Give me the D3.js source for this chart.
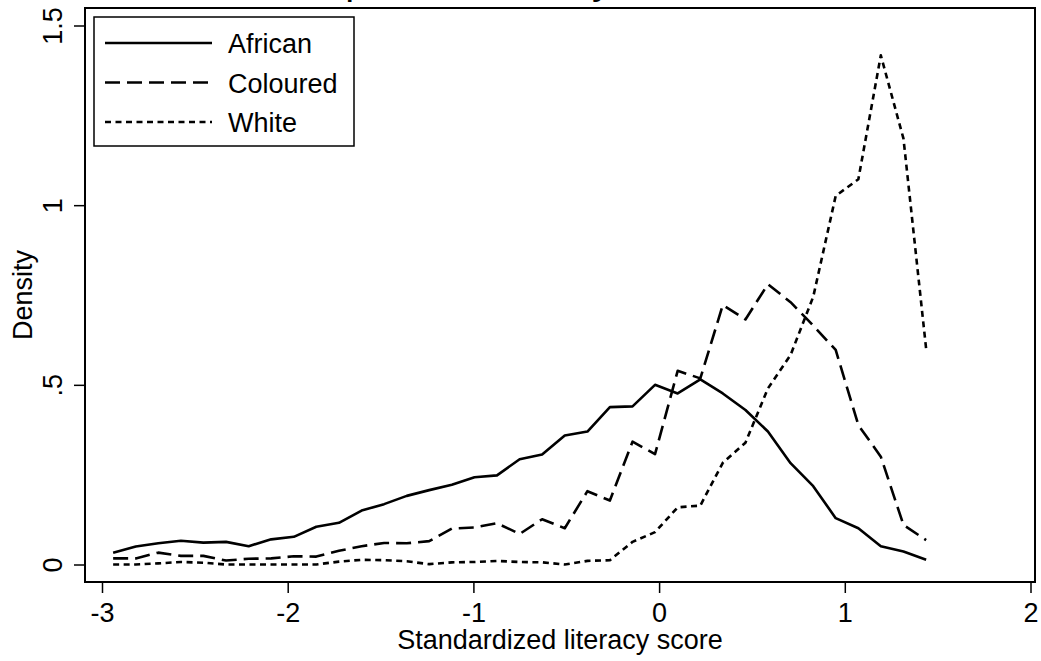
<!DOCTYPE html>
<html>
<head>
<meta charset="utf-8">
<script src="https://cdn.jsdelivr.net/npm/d3@7"></script>
<style>
    body { margin: 0; background: #fff; }
    text { font-family: "Liberation Sans", Arial, sans-serif; fill: #000; }
</style>
</head>
<body>
<svg id="chart" width="1041" height="661"></svg>
<script>
// literacy score grid (bin midpoints)
var scores = [-2.940, -2.818, -2.697, -2.575, -2.454, -2.332, -2.210, -2.089, -1.967, -1.846,
    -1.724, -1.602, -1.481, -1.359, -1.238, -1.116, -0.994, -0.873, -0.751, -0.630,
    -0.508, -0.386, -0.265, -0.143, -0.022, 0.100, 0.222, 0.343, 0.465, 0.586,
    0.708, 0.830, 0.951, 1.073, 1.194, 1.316, 1.438]

var african = [0.033, 0.050, 0.059, 0.066, 0.061, 0.063, 0.051, 0.070, 0.077, 0.105,
    0.116, 0.150, 0.168, 0.191, 0.207, 0.222, 0.243, 0.248, 0.293, 0.306,
    0.359, 0.370, 0.438, 0.440, 0.500, 0.476, 0.515, 0.476, 0.430, 0.370,
    0.282, 0.218, 0.129, 0.101, 0.051, 0.036, 0.013]

var coloured = [0.017, 0.017, 0.033, 0.024, 0.024, 0.011, 0.016, 0.017, 0.023, 0.022,
    0.038, 0.051, 0.060, 0.059, 0.065, 0.100, 0.103, 0.115, 0.085, 0.126,
    0.101, 0.204, 0.178, 0.342, 0.307, 0.539, 0.518, 0.722, 0.682, 0.780,
    0.730, 0.665, 0.597, 0.388, 0.300, 0.110, 0.068]

var white = [0.000, 0.000, 0.003, 0.007, 0.005, 0.000, 0.000, 0.000, 0.000, 0.000,
    0.008, 0.013, 0.012, 0.009, 0.001, 0.006, 0.007, 0.010, 0.007, 0.006,
    0.000, 0.010, 0.012, 0.063, 0.090, 0.159, 0.164, 0.283, 0.339, 0.490,
    0.583, 0.745, 1.026, 1.072, 1.417, 1.185, 0.600]

var seriesNames = ["African", "Coloured", "White"],
    seriesDash = ["none", "15,7", "6,4.5"],
    xTicks = [-3, -2, -1, 0, 1, 2],
    xTickLabels = ["-3", "-2", "-1", "0", "1", "2"],
    yTicks = [0, 0.5, 1, 1.5],
    yTickLabels = ["0", ".5", "1", "1.5"]

var svg = d3.select("#chart"),
    frame = {left: 85, right: 1035, top: 8, bottom: 582}

var x = d3.scaleLinear().domain([-3, 2]).range([102, 1030.5]),
    y = d3.scaleLinear().domain([0, 1.5]).range([564.5, 25.5])

// title sits mostly above the page edge, only descenders show
svg.append("text")
    .attr("x", 513)
    .attr("y", -6)
    .attr("text-anchor", "middle")
    .style("font-size", "40px")
    .text("Distribution plots of literacy score, all races")

// plot region box
svg.append("rect")
    .attr("x", frame.left)
    .attr("y", frame.top)
    .attr("width", frame.right - frame.left)
    .attr("height", frame.bottom - frame.top)
    .attr("fill", "none")
    .attr("stroke", "#000")
    .attr("stroke-width", 2)

// axes
var xAxis = d3.axisBottom(x).tickValues(xTicks).tickSize(11)
    .tickFormat(function(d, i) { return xTickLabels[i] })

var gx = svg.append("g")
    .attr("transform", "translate(0," + frame.bottom + ")")
    .call(xAxis)
gx.select(".domain").remove()
gx.selectAll("line").attr("stroke-width", 1.5)
gx.selectAll("text").style("font-size", "27px").attr("y", 40).attr("dy", null)

var yAxis = d3.axisLeft(y).tickValues(yTicks).tickSize(11)
    .tickFormat(function(d, i) { return yTickLabels[i] })

var gy = svg.append("g")
    .attr("transform", "translate(" + frame.left + ",0)")
    .call(yAxis)
gy.select(".domain").remove()
gy.selectAll("line").attr("stroke-width", 1.5)
gy.selectAll("text")
    .style("font-size", "27px")
    .attr("x", null).attr("dy", null)
    .attr("text-anchor", "middle")
    .attr("transform", "translate(-23,0) rotate(-90)")

// axis titles
svg.append("text")
    .attr("x", (frame.left + frame.right) / 2)
    .attr("y", 649)
    .attr("text-anchor", "middle")
    .style("font-size", "27px")
    .text("Standardized literacy score")

svg.append("text")
    .attr("transform", "translate(32," + (frame.top + frame.bottom) / 2 + ") rotate(-90)")
    .attr("text-anchor", "middle")
    .style("font-size", "27px")
    .text("Density")

// density lines
var line = d3.line()
    .x(function(d) { return x(d[0]) })
    .y(function(d) { return y(d[1]) })

var series = [african, coloured, white]

series.forEach(function(vals, k) {
    svg.append("path")
        .datum(d3.zip(scores, vals))
        .attr("d", line)
        .attr("fill", "none")
        .attr("stroke", "#000")
        .attr("stroke-width", 2.6)
        .attr("stroke-linejoin", "round")
        .attr("stroke-dasharray", seriesDash[k])
})

// legend
var legend = svg.append("g")

legend.append("rect")
    .attr("x", 94)
    .attr("y", 17)
    .attr("width", 260)
    .attr("height", 129)
    .attr("fill", "#fff")
    .attr("stroke", "#000")
    .attr("stroke-width", 1.5)

var rows = legend.selectAll("g.row")
    .data(seriesNames)
    .enter().append("g")
    .attr("class", "row")
    .attr("transform", function(d, i) { return "translate(0," + (43 + i * 39.5) + ")" })

rows.append("line")
    .attr("x1", 105)
    .attr("x2", 212)
    .attr("stroke", "#000")
    .attr("stroke-width", 2.6)
    .attr("stroke-dasharray", function(d, i) { return seriesDash[i] })

rows.append("text")
    .attr("x", 228)
    .attr("y", 10)
    .style("font-size", "27px")
    .text(function(d) { return d })
</script>
</body>
</html>
